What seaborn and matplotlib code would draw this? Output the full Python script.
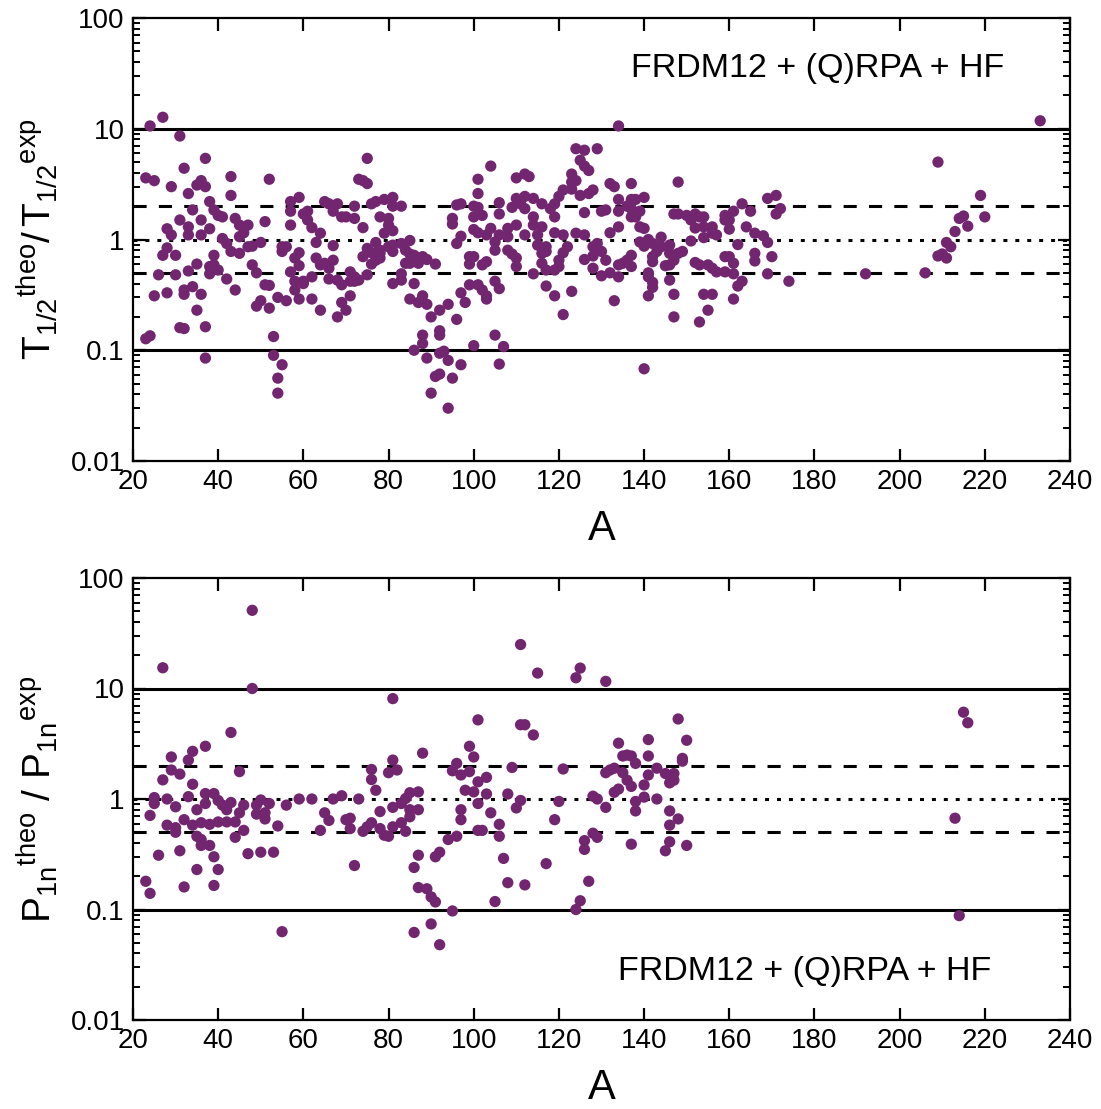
import numpy as np
import pandas as pd
import matplotlib
matplotlib.use("Agg")
import matplotlib.pyplot as plt
from matplotlib.ticker import FixedLocator, FuncFormatter, LogLocator, NullFormatter
import seaborn as sns

# ---------------- data: half-life ratio (top panel) ----------------
A_halflife = [
    24, 27, 31, 37, 23, 25, 32, 29, 36, 35, 37, 33, 43, 43, 52, 38, 34, 39, 40, 41,
    44, 31, 33, 36, 28, 29, 33, 36, 38, 45, 47, 46, 45, 51, 41, 42, 43, 45, 47, 48,
    50, 28, 27, 30, 39, 35, 33, 38, 39, 40, 38, 26, 30, 42, 48, 49, 51, 52, 44, 34,
    32, 32, 28, 25, 36, 35, 50, 49, 52, 54, 56, 31, 32, 37, 23, 24, 37, 53, 53, 55,
    54, 54, 57, 59, 57, 60, 57, 55, 56, 55, 59, 58, 59, 57, 58, 58, 59, 60,
    75, 73, 74, 75, 65, 66, 68, 67, 61, 61, 62, 64, 63, 69, 70, 72, 72, 74, 67, 76,
    77, 79, 81, 81, 83, 78, 80, 80, 81, 79, 77, 75, 76, 78, 78, 80, 81, 81, 83, 85,
    84, 85, 86, 88, 89, 91, 84, 85, 87, 74, 76, 77, 78, 63, 64, 65, 67, 66, 62, 60,
    66, 68, 69, 71, 71, 72, 73, 75, 72, 81, 83, 83, 86, 62, 64, 69, 70, 71, 68, 85,
    87, 88, 89, 90, 94, 92, 96, 97, 96, 97, 95, 95, 96, 97, 92, 92, 88, 88, 86, 89,
    92, 93, 94, 91, 92, 95, 90, 94, 97,
    134, 124, 126, 129, 125, 126, 127, 104, 101, 110, 112, 113, 123, 123, 124, 121,
    123, 125, 128, 127, 132, 133, 101, 100, 101, 100, 102, 106, 106, 110, 112, 114,
    111, 109, 112, 116, 118, 120, 119, 114, 119, 126, 130, 131, 134, 134, 110, 114,
    116, 108, 104, 100, 101, 103, 106, 108, 112, 115, 119, 121, 124, 126, 132, 134,
    105, 105, 108, 109, 110, 110, 115, 117, 116, 117, 116, 117, 114, 122, 121, 120,
    120, 119, 128, 129, 130, 131, 128, 126, 128, 130, 132, 134, 134, 99, 100, 99,
    102, 103, 99, 101, 102, 103, 103, 105, 106, 98, 117, 119, 123, 121, 133, 100,
    105, 107, 106,
    137, 148, 137, 138, 140, 136, 137, 139, 137, 138, 139, 140, 147, 148, 150, 151,
    152, 153, 154, 159, 159, 160, 161, 163, 165, 169, 171, 172, 171, 152, 154, 156,
    156, 157, 154, 160, 164, 166, 168, 169, 162, 151, 144, 141, 139, 140, 142, 144,
    146, 143, 142, 142, 146, 148, 149, 147, 145, 146, 152, 153, 155, 156, 157, 159,
    160, 161, 159, 161, 166, 166, 170, 169, 174, 137, 136, 137, 135, 141, 141, 142,
    142, 141, 146, 147, 147, 154, 156, 155, 153, 161, 162, 163, 140,
    233, 209, 219, 220, 215, 214, 216, 213, 211, 212, 209, 210, 211, 206, 192,
]
ratio_halflife = [
    10.6, 12.7, 8.6, 5.4, 3.6, 3.4, 4.4, 3.0, 3.4, 3.1, 3.0, 2.6, 3.7, 2.5, 3.5, 2.2, 1.85, 1.85, 1.65, 1.6,
    1.55, 1.5, 1.3, 1.5, 1.25, 1.1, 1.1, 1.1, 1.25, 1.35, 1.35, 1.15, 1.06, 1.45, 1.02, 0.92, 0.78, 0.75, 0.86, 0.87,
    0.94, 0.84, 0.72, 0.72, 0.72, 0.60, 0.52, 0.57, 0.59, 0.53, 0.49, 0.48, 0.48, 0.44, 0.59, 0.50, 0.39, 0.385, 0.35, 0.375,
    0.35, 0.32, 0.33, 0.31, 0.32, 0.23, 0.28, 0.25, 0.24, 0.30, 0.28, 0.16, 0.157, 0.163, 0.127, 0.135, 0.085, 0.133, 0.09, 0.074,
    0.056, 0.041, 2.2, 2.4, 1.8, 1.7, 1.35, 0.86, 0.86, 0.78, 0.76, 0.68, 0.58, 0.51, 0.42, 0.35, 0.29, 0.40,
    5.4, 3.5, 3.4, 3.2, 2.2, 2.1, 2.1, 1.8, 1.8, 1.5, 1.28, 1.14, 0.94, 1.6, 1.6, 2.0, 1.55, 1.28, 0.88, 2.1,
    2.2, 2.3, 2.4, 2.0, 2.0, 1.6, 1.55, 1.35, 1.2, 1.14, 0.94, 0.83, 0.76, 0.75, 0.80, 0.86, 0.78, 0.89, 0.92, 0.98,
    0.80, 0.74, 0.72, 0.70, 0.66, 0.60, 0.61, 0.61, 0.61, 0.70, 0.60, 0.65, 0.68, 0.68, 0.59, 0.61, 0.65, 0.55, 0.46, 0.42,
    0.44, 0.43, 0.39, 0.51, 0.42, 0.42, 0.43, 0.48, 0.46, 0.40, 0.49, 0.43, 0.40, 0.29, 0.23, 0.27, 0.23, 0.31, 0.20, 0.29,
    0.27, 0.31, 0.26, 0.20, 0.26, 0.23, 0.19, 0.33, 0.92, 1.07, 1.55, 1.38, 2.05, 2.1, 0.15, 0.137, 0.137, 0.115, 0.10, 0.085,
    0.094, 0.098, 0.081, 0.058, 0.061, 0.056, 0.041, 0.030, 0.074,
    10.6, 6.6, 6.4, 6.6, 5.2, 4.6, 4.2, 4.6, 3.5, 3.6, 3.9, 3.7, 3.9, 3.3, 3.4, 2.8,
    2.85, 2.5, 2.8, 2.6, 3.2, 3.0, 2.6, 2.0, 1.95, 1.6, 1.65, 2.15, 1.7, 2.35, 2.45, 2.35,
    2.1, 1.95, 1.9, 2.1, 1.9, 2.45, 2.1, 1.6, 1.6, 1.75, 1.8, 1.85, 1.8, 2.3, 1.35, 1.35,
    1.3, 1.26, 1.26, 1.23, 1.15, 1.1, 1.1, 1.06, 1.1, 1.1, 1.15, 1.1, 1.14, 1.1, 1.15, 1.3,
    0.95, 0.80, 0.80, 0.74, 0.68, 0.57, 0.89, 0.86, 0.75, 0.78, 0.61, 0.53, 0.49, 0.86, 0.76, 0.65,
    0.57, 0.53, 0.86, 0.92, 0.78, 0.65, 0.71, 0.66, 0.55, 0.47, 0.50, 0.59, 0.46, 0.70, 0.70, 0.60,
    0.59, 0.63, 0.39, 0.39, 0.35, 0.31, 0.29, 0.42, 0.36, 0.27, 0.38, 0.31, 0.34, 0.21, 0.28, 0.11,
    0.137, 0.108, 0.075,
    3.2, 3.3, 2.3, 2.3, 2.4, 2.0, 1.9, 1.8, 1.6, 1.6, 1.3, 1.26, 1.7, 1.7, 1.65, 1.5,
    1.7, 1.6, 1.6, 1.65, 1.5, 1.5, 1.8, 2.1, 1.8, 2.35, 2.5, 1.9, 1.7, 1.27, 1.3, 1.3,
    1.14, 1.1, 1.04, 1.24, 1.3, 1.14, 1.08, 0.94, 0.9, 0.97, 1.05, 1.0, 0.95, 0.87, 0.92, 0.86,
    0.89, 0.78, 0.70, 0.63, 0.75, 0.75, 0.78, 0.65, 0.58, 0.59, 0.62, 0.59, 0.59, 0.55, 0.51, 0.70,
    0.70, 0.61, 0.51, 0.49, 0.75, 0.64, 0.70, 0.49, 0.42, 0.72, 0.65, 0.57, 0.61, 0.50, 0.46, 0.41,
    0.37, 0.31, 0.43, 0.32, 0.20, 0.32, 0.32, 0.23, 0.18, 0.29, 0.38, 0.42, 0.068,
    11.8, 5.0, 2.5, 1.6, 1.63, 1.55, 1.32, 1.18, 0.94, 0.86, 0.71, 0.74, 0.68, 0.50, 0.49,
]

# ---------------- data: P1n ratio (bottom panel) ----------------
A_p1n = [
    48, 48, 27, 43, 37, 34, 29, 33, 29, 31, 27, 34, 45, 25, 25, 28, 33, 37, 39, 40,
    41, 43, 42, 45, 46, 49, 50, 52, 49, 51, 51, 56, 59, 37, 30, 35, 24, 32, 28, 30,
    30, 34, 36, 38, 40, 42, 44, 46, 54, 35, 36, 36, 38, 44, 26, 31, 39, 47, 50, 53,
    35, 40, 23, 24, 32, 39, 55,
    81, 88, 81, 76, 80, 82, 76, 77, 96, 95, 97, 98, 62, 67, 69, 73, 85, 87, 84, 83,
    87, 85, 85, 81, 78, 97, 97, 65, 66, 70, 71, 71, 64, 74, 75, 76, 78, 79, 80, 81,
    83, 84, 94, 96, 92, 91, 87, 86, 72, 87, 89, 90, 91, 95, 90, 86, 92,
    111, 115, 124, 125, 131, 101, 111, 112, 114, 99, 100, 99, 109, 121, 131, 132, 133, 134, 135, 135,
    103, 101, 100, 103, 101, 108, 111, 110, 120, 128, 129, 131, 133, 134, 104, 101, 102, 106, 106, 119,
    128, 129, 126, 126, 107, 117, 108, 112, 127, 105, 125, 124,
    148, 150, 149, 149, 141, 136, 137, 138, 141, 143, 145, 146, 147, 147, 141, 140, 136, 137, 140, 143,
    138, 138, 146, 148, 146, 137, 146, 145, 150,
    215, 216, 213, 214,
]
ratio_p1n = [
    51, 10, 15.4, 4.0, 3.0, 2.7, 2.4, 2.25, 1.83, 1.68, 1.49, 1.36, 1.77, 1.03, 0.91, 1.0, 1.05, 1.12, 1.12, 0.97,
    0.88, 0.93, 0.80, 0.75, 0.88, 0.88, 0.98, 0.91, 0.73, 0.75, 0.66, 0.88, 1.0, 0.91, 0.85, 0.80, 0.71, 0.65, 0.58, 0.55,
    0.50, 0.58, 0.61, 0.59, 0.62, 0.62, 0.62, 0.52, 0.57, 0.46, 0.43, 0.38, 0.38, 0.45, 0.31, 0.34, 0.30, 0.32, 0.33, 0.33,
    0.23, 0.23, 0.18, 0.14, 0.16, 0.165, 0.063,
    8.1, 2.6, 2.25, 1.85, 1.73, 1.83, 1.5, 1.2, 2.1, 1.8, 1.65, 1.2, 1.0, 1.0, 1.07, 1.0, 1.14, 1.16, 1.01, 0.91,
    0.80, 0.80, 0.69, 0.84, 0.77, 0.80, 0.65, 0.75, 0.64, 0.65, 0.67, 0.54, 0.52, 0.51, 0.56, 0.61, 0.54, 0.47, 0.46, 0.56,
    0.61, 0.51, 0.43, 0.46, 0.33, 0.30, 0.31, 0.24, 0.25, 0.158, 0.154, 0.13, 0.117, 0.097, 0.074, 0.062, 0.048,
    25, 13.8, 12.5, 15.3, 11.6, 5.2, 4.7, 4.7, 3.8, 3.0, 2.4, 1.77, 1.93, 1.87, 1.73, 1.83, 1.9, 3.2, 2.45, 1.73,
    1.57, 1.43, 1.16, 1.11, 0.91, 1.11, 0.97, 0.83, 0.95, 1.06, 1.0, 0.84, 1.15, 1.23, 0.75, 0.52, 0.52, 0.59, 0.46, 0.65,
    0.49, 0.45, 0.42, 0.35, 0.29, 0.26, 0.175, 0.167, 0.18, 0.118, 0.12, 0.10,
    5.3, 3.4, 2.33, 2.2, 3.45, 2.5, 2.45, 2.1, 2.45, 1.9, 1.7, 1.4, 1.7, 1.48, 1.65, 1.34, 1.48, 1.3, 1.04, 1.0,
    0.95, 0.78, 0.78, 0.66, 0.58, 0.39, 0.41, 0.34, 0.38,
    6.1, 4.9, 0.67, 0.088,
]

x_ticks = [20, 40, 60, 80, 100, 120, 140, 160, 180, 200, 220, 240]
y_ticks = [0.01, 0.1, 1, 10, 100]
y_tick_labels = ["0.01", "0.1", "1", "10", "100"]
model_label = "FRDM12 + (Q)RPA + HF"

# ---------------- style ----------------
sns.set_style("ticks")
plt.rcParams["font.family"] = ["Liberation Sans", "DejaVu Sans"]
plt.rcParams["mathtext.fontset"] = "custom"
plt.rcParams["mathtext.rm"] = "Liberation Sans"
plt.rcParams["mathtext.it"] = "Liberation Sans:italic"
plt.rcParams["mathtext.sf"] = "Liberation Sans"
for key in ["text.color", "axes.labelcolor", "xtick.color", "ytick.color", "axes.edgecolor"]:
    plt.rcParams[key] = "black"

point_color = "#722670"

fig = plt.figure(figsize=(11.01, 11.09), dpi=100)
ax1 = fig.add_axes([133 / 1101, 1 - 461 / 1109, 937 / 1101, 443 / 1109])
ax2 = fig.add_axes([133 / 1101, 1 - 1020 / 1109, 937 / 1101, 442 / 1109])

df_top = pd.DataFrame({"A": A_halflife, "ratio": ratio_halflife})
df_bot = pd.DataFrame({"A": A_p1n, "ratio": ratio_p1n})


def style_axis(ax, df, ylabel, text_pos):
    ax.set_yscale("log")
    for y, ls in [(10, "-"), (0.1, "-"), (2, (0, (4.3, 4.0))), (0.5, (0, (4.3, 4.0))),
                  (1, (0, (1.3, 2.6)))]:
        ax.axhline(y, color="black", lw=2.2, ls=ls, zorder=1)
    sns.scatterplot(data=df, x="A", y="ratio", ax=ax, color=point_color, s=66,
                    linewidth=0, edgecolor="none", legend=False, zorder=3)
    ax.set_xlim(20, 240)
    ax.set_ylim(0.01, 100)
    ax.xaxis.set_major_locator(FixedLocator(x_ticks))
    ax.yaxis.set_major_locator(FixedLocator(y_ticks))
    ax.yaxis.set_major_formatter(FuncFormatter(
        lambda v, p: y_tick_labels[y_ticks.index(v)] if v in y_ticks else ""))
    ax.yaxis.set_minor_locator(LogLocator(base=10, subs=np.arange(2, 10), numticks=20))
    ax.yaxis.set_minor_formatter(NullFormatter())
    ax.tick_params(axis="both", which="major", direction="in", length=9, width=1.6,
                   labelsize=20, top=True, right=True, pad=6)
    ax.tick_params(axis="both", which="minor", direction="in", length=5, width=1.4,
                   top=True, right=True)
    for sp in ax.spines.values():
        sp.set_linewidth(1.6)
        sp.set_color("black")
    ax.set_xlabel("A", fontsize=30, labelpad=10)
    ax.set_ylabel(ylabel, fontsize=28, labelpad=4)
    ax.yaxis.set_label_coords(-0.078, 0.5)
    ax.text(text_pos[0], text_pos[1], model_label, transform=ax.transAxes,
            ha="center", va="center", fontsize=24.5)


style_axis(ax1, df_top, r"$\mathregular{T_{1/2}{}^{theo}/\,T_{1/2}{}^{exp}}$", (0.731, 0.887))
style_axis(ax2, df_bot, r"$\mathregular{P_{1n}{}^{theo}\ /\ P_{1n}{}^{exp}}$", (0.717, 0.109))

fig.savefig("out.png", dpi=100)
